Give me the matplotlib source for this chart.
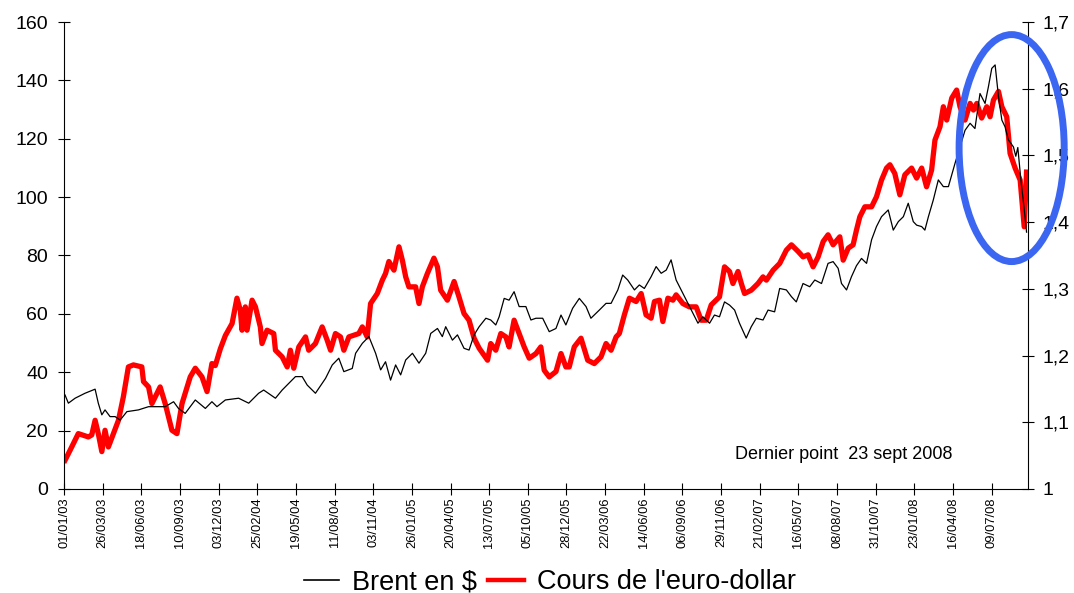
import matplotlib
matplotlib.use('Agg')
import matplotlib.pyplot as plt
import matplotlib.dates as mdates
from matplotlib.lines import Line2D
from matplotlib.patches import Ellipse
import numpy as np
import pandas as pd

plt.rcParams['font.family'] = ['Liberation Sans', 'DejaVu Sans']

# dates as decimal years
brent_t = [2003.006, 2003.026, 2003.066, 2003.125, 2003.185, 2003.204, 2003.225, 2003.244, 2003.274, 2003.304,
           2003.334, 2003.374, 2003.443, 2003.503, 2003.542, 2003.602, 2003.652, 2003.681, 2003.721, 2003.781,
           2003.841, 2003.880, 2003.910, 2003.960, 2004.039, 2004.099, 2004.158, 2004.188, 2004.258, 2004.298,
           2004.377, 2004.417, 2004.447, 2004.496, 2004.556, 2004.596, 2004.635, 2004.665, 2004.715, 2004.735,
           2004.775, 2004.814, 2004.854, 2004.884, 2004.913, 2004.943, 2004.973, 2005.003, 2005.033, 2005.073,
           2005.112, 2005.152, 2005.182, 2005.222, 2005.251, 2005.271, 2005.311, 2005.341, 2005.380, 2005.410,
           2005.440, 2005.470, 2005.510, 2005.539, 2005.569, 2005.589, 2005.619, 2005.648, 2005.678, 2005.708,
           2005.748, 2005.778, 2005.808, 2005.848, 2005.887, 2005.927, 2005.957, 2005.986, 2006.026, 2006.066,
           2006.106, 2006.135, 2006.185, 2006.225, 2006.255, 2006.295, 2006.324, 2006.354, 2006.394, 2006.423,
           2006.453, 2006.493, 2006.523, 2006.553, 2006.583, 2006.612, 2006.642, 2006.672, 2006.712, 2006.742,
           2006.772, 2006.801, 2006.841, 2006.870, 2006.900, 2006.930, 2006.960, 2006.990, 2007.019, 2007.059,
           2007.089, 2007.119, 2007.159, 2007.189, 2007.228, 2007.258, 2007.298, 2007.328, 2007.357, 2007.397,
           2007.437, 2007.467, 2007.507, 2007.546, 2007.576, 2007.606, 2007.626, 2007.656, 2007.685, 2007.715,
           2007.745, 2007.775, 2007.805, 2007.834, 2007.864, 2007.904, 2007.934, 2007.964, 2007.994, 2008.023,
           2008.053, 2008.073, 2008.103, 2008.122, 2008.143, 2008.172, 2008.202, 2008.232, 2008.262, 2008.301,
           2008.331, 2008.361, 2008.391, 2008.420, 2008.450, 2008.480, 2008.500, 2008.520, 2008.540, 2008.560,
           2008.580, 2008.599, 2008.619, 2008.649, 2008.663, 2008.675, 2008.693, 2008.711, 2008.727]
brent = [32.2, 29.4, 31.1, 32.8, 34.2, 29.4, 25.4, 27.1, 24.8, 24.8,
         23.6, 26.5, 27.1, 28.2, 28.2, 28.2, 29.9, 27.6, 25.9, 30.5,
         27.6, 29.9, 28.2, 30.5, 31.1, 29.4, 32.8, 33.9, 31.1, 33.9,
         38.5, 38.5, 35.6, 32.8, 37.9, 42.5, 44.8, 40.2, 41.3, 46.5,
         49.9, 52.2, 46.5, 40.8, 43.6, 37.3, 42.5, 39.1, 44.2, 46.5,
         43.1, 46.5, 53.3, 55.0, 52.2, 55.6, 51.0, 52.8, 48.2, 47.6,
         52.8, 55.6, 58.5, 57.9, 56.2, 59.0, 65.3, 64.7, 67.6, 62.5,
         62.5, 57.9, 58.5, 58.5, 53.9, 55.0, 59.6, 56.2, 61.9, 65.3,
         62.5, 58.5, 61.3, 63.6, 63.6, 68.2, 73.3, 71.6, 68.2, 69.9,
         68.7, 72.7, 76.2, 73.9, 75.0, 78.5, 71.6, 68.2, 63.6, 60.2,
         56.8, 59.0, 56.8, 59.6, 59.0, 64.1, 63.0, 61.3, 56.8, 51.7,
         55.6, 58.5, 57.9, 61.3, 60.7, 68.7, 68.2, 65.9, 64.1, 70.4,
         69.3, 71.6, 70.4, 77.3, 77.9, 75.6, 70.4, 68.2, 72.7, 76.5,
         79.0, 77.3, 85.4, 89.9, 93.3, 95.6, 88.7, 91.6, 93.3, 97.9,
         91.6, 90.4, 89.9, 88.7, 93.3, 99.0, 105.9, 103.6, 103.6, 111.5,
         117.2, 122.9, 125.3, 123.5, 135.5, 132.1, 137.8, 144.1, 145.3, 134.4,
         126.4, 124.1, 119.6, 117.2, 114.0, 117.0, 106.0, 97.0, 88.0]

eur_t = [2003.006, 2003.036, 2003.085, 2003.145, 2003.165, 2003.185, 2003.204, 2003.225, 2003.244, 2003.264,
         2003.324, 2003.353, 2003.383, 2003.413, 2003.463, 2003.473, 2003.503, 2003.523, 2003.572, 2003.602,
         2003.642, 2003.672, 2003.702, 2003.751, 2003.781, 2003.821, 2003.851, 2003.880, 2003.900, 2003.930,
         2003.960, 2004.000, 2004.029, 2004.049, 2004.059, 2004.079, 2004.089, 2004.119, 2004.139, 2004.168,
         2004.178, 2004.208, 2004.248, 2004.258, 2004.298, 2004.328, 2004.347, 2004.367, 2004.397, 2004.437,
         2004.456, 2004.496, 2004.536, 2004.566, 2004.586, 2004.615, 2004.645, 2004.665, 2004.695, 2004.754,
         2004.775, 2004.804, 2004.824, 2004.864, 2004.894, 2004.913, 2004.933, 2004.963, 2004.993, 2005.013,
         2005.033, 2005.052, 2005.092, 2005.112, 2005.132, 2005.162, 2005.201, 2005.222, 2005.241, 2005.281,
         2005.321, 2005.350, 2005.380, 2005.410, 2005.440, 2005.470, 2005.520, 2005.539, 2005.569, 2005.599,
         2005.629, 2005.648, 2005.678, 2005.708, 2005.738, 2005.768, 2005.808, 2005.837, 2005.857, 2005.887,
         2005.927, 2005.957, 2005.986, 2006.006, 2006.036, 2006.076, 2006.116, 2006.155, 2006.195, 2006.225,
         2006.255, 2006.285, 2006.304, 2006.334, 2006.364, 2006.404, 2006.434, 2006.463, 2006.493, 2006.513,
         2006.543, 2006.563, 2006.593, 2006.623, 2006.642, 2006.682, 2006.721, 2006.761, 2006.791, 2006.821,
         2006.851, 2006.900, 2006.930, 2006.960, 2006.980, 2007.010, 2007.030, 2007.049, 2007.089, 2007.129,
         2007.159, 2007.179, 2007.219, 2007.258, 2007.298, 2007.328, 2007.368, 2007.397, 2007.427, 2007.457,
         2007.487, 2007.517, 2007.546, 2007.576, 2007.616, 2007.636, 2007.666, 2007.695, 2007.715, 2007.735,
         2007.765, 2007.805, 2007.834, 2007.864, 2007.894, 2007.914, 2007.943, 2007.973, 2008.003, 2008.043,
         2008.073, 2008.103, 2008.132, 2008.162, 2008.182, 2008.212, 2008.232, 2008.252, 2008.282, 2008.311,
         2008.331, 2008.361, 2008.391, 2008.411, 2008.431, 2008.460, 2008.490, 2008.510, 2008.530, 2008.560,
         2008.580, 2008.609, 2008.629, 2008.659, 2008.689, 2008.713, 2008.727]
eur = [1.043, 1.058, 1.083, 1.078, 1.081, 1.103, 1.083, 1.056, 1.088, 1.063,
       1.103, 1.138, 1.183, 1.186, 1.183, 1.161, 1.153, 1.128, 1.153, 1.128,
       1.088, 1.083, 1.128, 1.168, 1.181, 1.168, 1.146, 1.188, 1.185, 1.210,
       1.230, 1.248, 1.286, 1.268, 1.238, 1.273, 1.238, 1.283, 1.273, 1.243,
       1.218, 1.238, 1.233, 1.208, 1.198, 1.183, 1.208, 1.181, 1.213, 1.228,
       1.208, 1.218, 1.243, 1.223, 1.208, 1.233, 1.228, 1.208, 1.228, 1.233,
       1.243, 1.228, 1.278, 1.293, 1.313, 1.323, 1.341, 1.328, 1.363, 1.343,
       1.318, 1.303, 1.303, 1.278, 1.303, 1.323, 1.346, 1.333, 1.298, 1.283,
       1.311, 1.288, 1.263, 1.253, 1.226, 1.211, 1.193, 1.218, 1.208, 1.233,
       1.228, 1.213, 1.253, 1.233, 1.213, 1.196, 1.203, 1.213, 1.178, 1.168,
       1.176, 1.203, 1.183, 1.183, 1.213, 1.226, 1.193, 1.188, 1.198, 1.218,
       1.208, 1.228, 1.233, 1.261, 1.286, 1.281, 1.293, 1.261, 1.256, 1.281,
       1.283, 1.251, 1.286, 1.283, 1.291, 1.278, 1.273, 1.273, 1.253, 1.253,
       1.276, 1.288, 1.333, 1.326, 1.308, 1.326, 1.308, 1.293, 1.298, 1.308,
       1.318, 1.313, 1.328, 1.338, 1.358, 1.366, 1.356, 1.348, 1.351, 1.333,
       1.348, 1.371, 1.381, 1.366, 1.378, 1.343, 1.361, 1.366, 1.388, 1.408,
       1.423, 1.423, 1.438, 1.463, 1.481, 1.486, 1.473, 1.441, 1.471, 1.481,
       1.466, 1.481, 1.453, 1.478, 1.523, 1.543, 1.573, 1.553, 1.586, 1.598,
       1.573, 1.553, 1.578, 1.568, 1.578, 1.556, 1.573, 1.558, 1.583, 1.596,
       1.573, 1.558, 1.503, 1.481, 1.463, 1.393, 1.475]

left_ticks = [0, 20, 40, 60, 80, 100, 120, 140, 160]
right_ticks = [1.0, 1.1, 1.2, 1.3, 1.4, 1.5, 1.6, 1.7]
right_labels = ['1', '1,1', '1,2', '1,3', '1,4', '1,5', '1,6', '1,7']
tick_dates = pd.date_range('2003-01-01', '2008-09-23', freq='84D')


def to_dates(t):
    t = np.asarray(t)
    return pd.Timestamp('2003-01-01') + pd.to_timedelta((t - 2003) * 365.25, unit='D')


fig = plt.figure(figsize=(10.74, 5.93), dpi=100)
ax = fig.add_axes([0.0596, 0.1754, 0.8976, 0.7875])
ax2 = ax.twinx()

# euro-dollar on the right axis, brent drawn above it
ax2.plot(to_dates(eur_t), eur, color='#ff0000', lw=3.8, solid_joinstyle='round')
ax.plot(to_dates(brent_t), brent, color='black', lw=0.9)
ax.set_zorder(ax2.get_zorder() + 1)
ax.patch.set_visible(False)

ax.set_ylim(0, 160)
ax.set_yticks(left_ticks)
ax2.set_ylim(1, 1.7)
ax2.set_yticks(right_ticks)
ax2.set_yticklabels(right_labels)

ax.set_xlim(pd.Timestamp('2003-01-01'), pd.Timestamp('2008-09-26'))
ax.set_xticks(tick_dates)
ax.xaxis.set_major_formatter(mdates.DateFormatter('%d/%m/%y'))
plt.setp(ax.get_xticklabels(), rotation=90)

ax.tick_params(axis='x', labelsize=9.3, direction='inout', length=8, pad=2)
ax.tick_params(axis='y', labelsize=14, direction='inout', length=9, pad=7)
ax2.tick_params(axis='y', labelsize=14, direction='inout', length=9, pad=6)

for s in ['top', 'right']:
    ax.spines[s].set_visible(False)
for s in ['top', 'left', 'bottom']:
    ax2.spines[s].set_visible(False)

ax.text(0.696, 0.073, 'Dernier point  23 sept 2008', transform=ax.transAxes,
        fontsize=13, ha='left', va='center')

ring = Ellipse((0.983, 0.730), 0.109, 0.486, transform=ax.transAxes, fill=False,
               edgecolor='#3b66f2', lw=5, clip_on=False, zorder=10)
ax.add_patch(ring)

handles = [Line2D([], [], color='black', lw=1.2), Line2D([], [], color='#ff0000', lw=3.2)]
fig.legend(handles, ['Brent en $', "Cours de l'euro-dollar"], loc='center',
           bbox_to_anchor=(0.512, 0.0185), ncol=2, frameon=False, fontsize=19.5,
           handlelength=1.3, handletextpad=0.5, columnspacing=0.4)

fig.savefig('out.png', dpi=100)
